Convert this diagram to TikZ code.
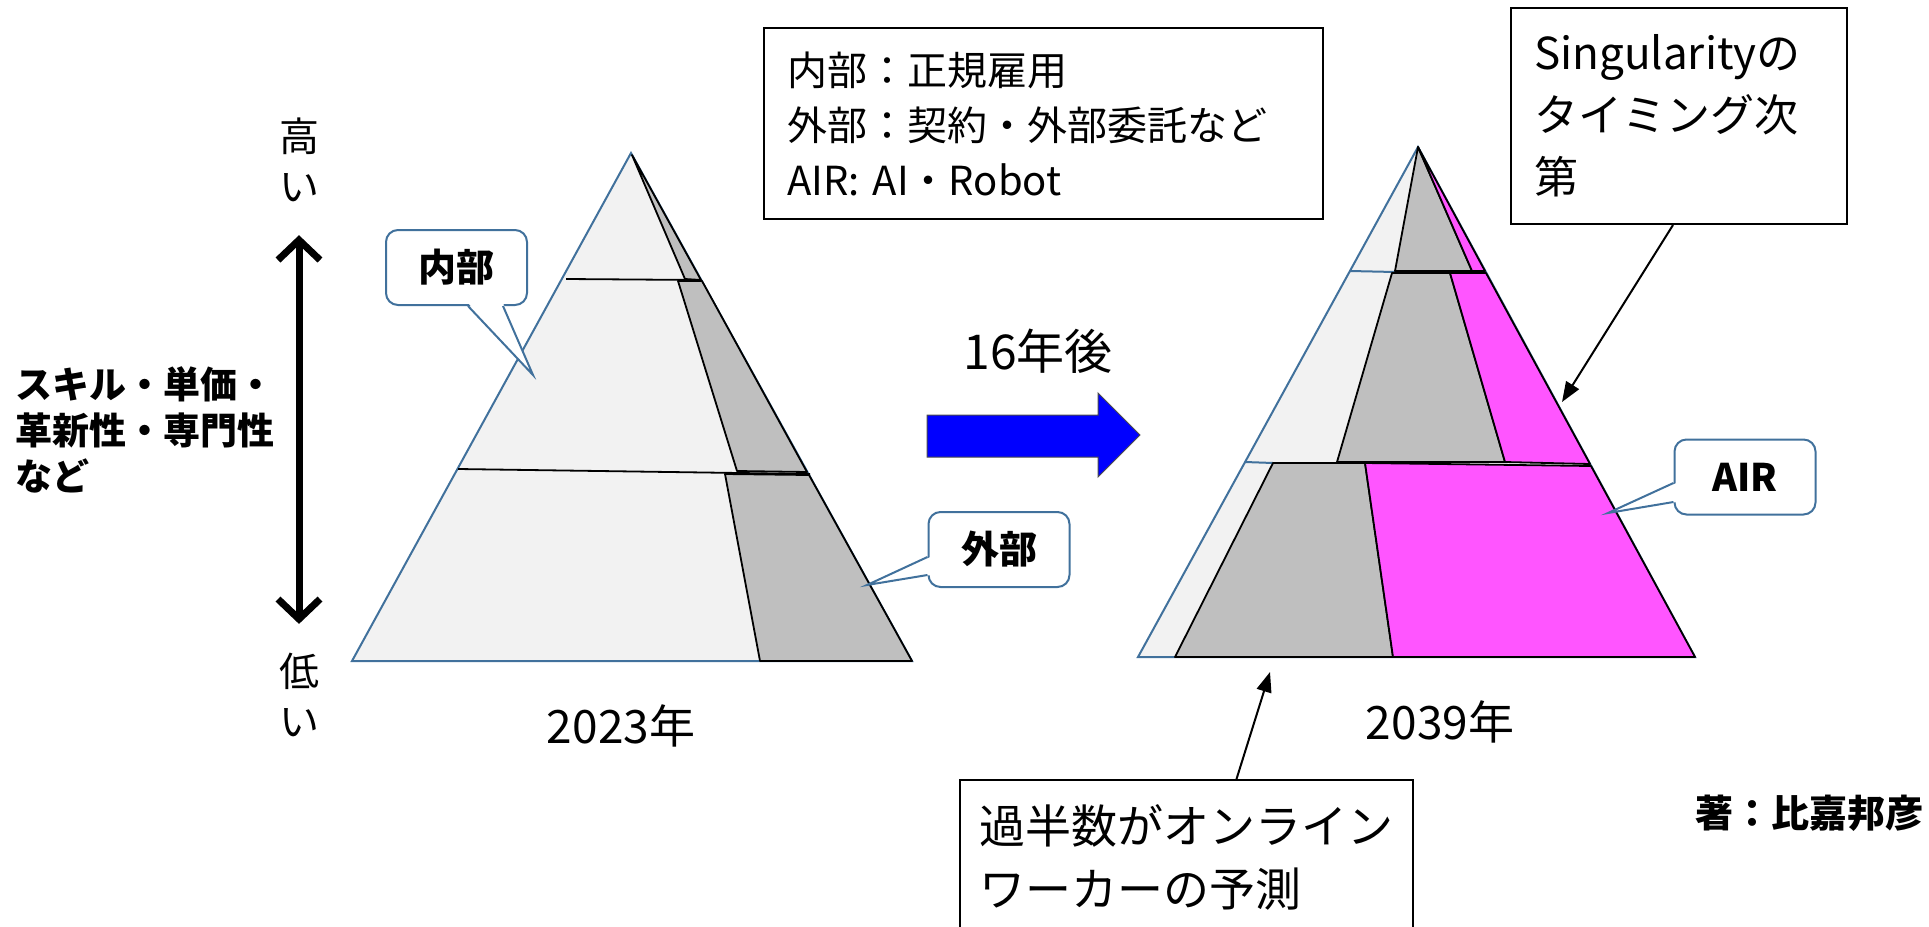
\documentclass[tikz,border=0pt]{standalone}
\usepackage{fontspec}
\setmainfont{Noto Sans CJK JP}
\usetikzlibrary{arrows.meta, calc, positioning}

\definecolor{pyrline}{HTML}{41719C}
\definecolor{lightpart}{HTML}{F2F2F2}
\definecolor{grayzone}{HTML}{BFBFBF}
\definecolor{airpink}{HTML}{FF55FF}

\begin{document}
\begin{tikzpicture}[x=1pt, y=-1pt,
    outer/.style={fill=lightpart, draw=pyrline, line width=2pt},
    sepline/.style={draw=black, line width=1.8pt},
    gzone/.style={fill=grayzone, draw=black, line width=1.8pt, line join=round},
    pzone/.style={fill=airpink, draw=black, line width=1.8pt, line join=round},
    bubble/.style={draw=pyrline, line width=2pt, fill=white, rounded corners=12pt,
      minimum width=141pt, minimum height=75pt, inner sep=0pt,
      font=\fontsize{38}{38}\selectfont\bfseries},
    tailline/.style={draw=pyrline, line width=2pt},
    note/.style={draw=black, line width=2pt, fill=white, align=left,
      anchor=north west, inner xsep=23pt, inner ysep=0pt},
    pointer/.style={draw=black, line width=2pt, -{Triangle[length=20pt,width=15pt]}},
    year/.style={font=\fontsize{46}{46}\selectfont, inner sep=0pt},
  ]
  \useasboundingbox (0,0) rectangle (1929,926);

  % scale on the left
  \node[font=\fontsize{40}{50}\selectfont, align=center, inner sep=0pt] (high) at (299,160) {高\\い};
  \node[font=\fontsize{40}{50}\selectfont, align=center, inner sep=0pt] (low) at (299,695) {低\\い};
  \draw[line width=7pt, shorten <=33pt, shorten >=29pt,
    {Straight Barb[length=20pt,width=42pt]}-{Straight Barb[length=20pt,width=42pt]}] (high) -- (low);
  \node[font=\fontsize{37}{46}\selectfont\bfseries, align=left, anchor=west, inner sep=0pt]
    (skill) at (15,430) {スキル・単価・\\革新性・専門性\\など};

  % 2023
  \draw[outer] (631,153) -- (912,661) -- (352,661) -- cycle;
  \draw[sepline] (566,279) -- (700,280);
  \draw[sepline] (458,469) -- (810,474);
  \draw[gzone] (632,155) -- (685,279) -- (701,280) -- cycle;
  \draw[gzone] (678,281) -- (702,281) -- (807,472) -- (737,471) -- cycle;
  \draw[gzone] (725,474) -- (809,475) -- (912,661) -- (760,661) -- cycle;
  \node[year] (y2023) at (621,726) {2023年};

  % 2039
  \draw[outer] (1418,147) -- (1695,657) -- (1138,657) -- cycle;
  \draw[tailline] (1350,271) -- (1395,272);
  \draw[tailline] (1245,462) -- (1273,463);
  \draw[gzone] (1418,147) -- (1472,271) -- (1395,271) -- cycle;
  \draw[pzone] (1418,147) -- (1485,271) -- (1472,271) -- cycle;
  \draw[gzone] (1392,273) -- (1450,273) -- (1505,462) -- (1337,462) -- cycle;
  \draw[pzone] (1450,273) -- (1486,273) -- (1590,464) -- (1505,462) -- cycle;
  \draw[gzone] (1273,463) -- (1365,463) -- (1393,657) -- (1175,657) -- cycle;
  \draw[pzone] (1365,463) -- (1591,466) -- (1695,657) -- (1393,657) -- cycle;
  \node[year] (y2039) at (1440,722) {2039年};

  % 16 years
  \node[font=\fontsize{48}{48}\selectfont, inner sep=0pt] (after) at (1038,351) {16年後};
  \draw[fill=blue, draw=black!70, line width=1pt]
    (927,415) -- (1098,415) -- (1098,393) -- (1140,435) -- (1098,477) -- (1098,457) -- (927,457) -- cycle;

  % callouts
  \node[bubble] (naibu) at (456.5,267.5) {内部};
  \coordinate (naibutip) at (533,375);
  \fill[white] ($(naibu.south)+(11.5,-3)$) -- (naibutip) -- ($(naibu.south)+(46.5,-3)$) -- cycle;
  \draw[tailline] ($(naibu.south)+(11.5,0)$) -- (naibutip) -- ($(naibu.south)+(46.5,0)$);

  \node[bubble] (gaibu) at (999,549.5) {外部};
  \coordinate (gaibutip) at (867,585);
  \fill[white] ($(gaibu.west)+(3,7.5)$) -- (gaibutip) -- ($(gaibu.west)+(3,25.5)$) -- cycle;
  \draw[tailline] ($(gaibu.west)+(0,7.5)$) -- (gaibutip) -- ($(gaibu.west)+(0,25.5)$);

  \node[bubble] (airc) at (1745,477) {AIR};
  \coordinate (airtip) at (1608,513);
  \fill[white] ($(airc.west)+(3,6)$) -- (airtip) -- ($(airc.west)+(3,25)$) -- cycle;
  \draw[tailline] ($(airc.west)+(0,6)$) -- (airtip) -- ($(airc.west)+(0,25)$);

  % notes
  \node[note, minimum height=191pt, text width=513pt, font=\fontsize{40}{55}\selectfont]
    (legend) at (763,27) {内部：正規雇用\\外部：契約・外部委託など\\AIR: AI・Robot};
  \node[note, minimum height=216pt, text width=290pt, font=\fontsize{44}{62}\selectfont]
    (sing) at (1510,7) {Singularityの\\タイミング次\\第};
  \coordinate (singtip) at (1562,402);
  \draw[pointer] ([xshift=-6pt]sing.south) -- (singtip);

  \node[note, minimum height=154pt, text width=414pt, inner xsep=19.5pt, font=\fontsize{46}{63}\selectfont]
    (online) at (959,779) {過半数がオンライン\\ワーカーの予測};
  \coordinate (onltip) at (1270,672);
  \draw[pointer] ([xshift=50pt]online.north) -- (onltip);

  \node[font=\fontsize{38}{38}\selectfont\bfseries, anchor=east, inner sep=0pt] (author) at (1924,813) {著：比嘉邦彦};
\end{tikzpicture}
\end{document}
